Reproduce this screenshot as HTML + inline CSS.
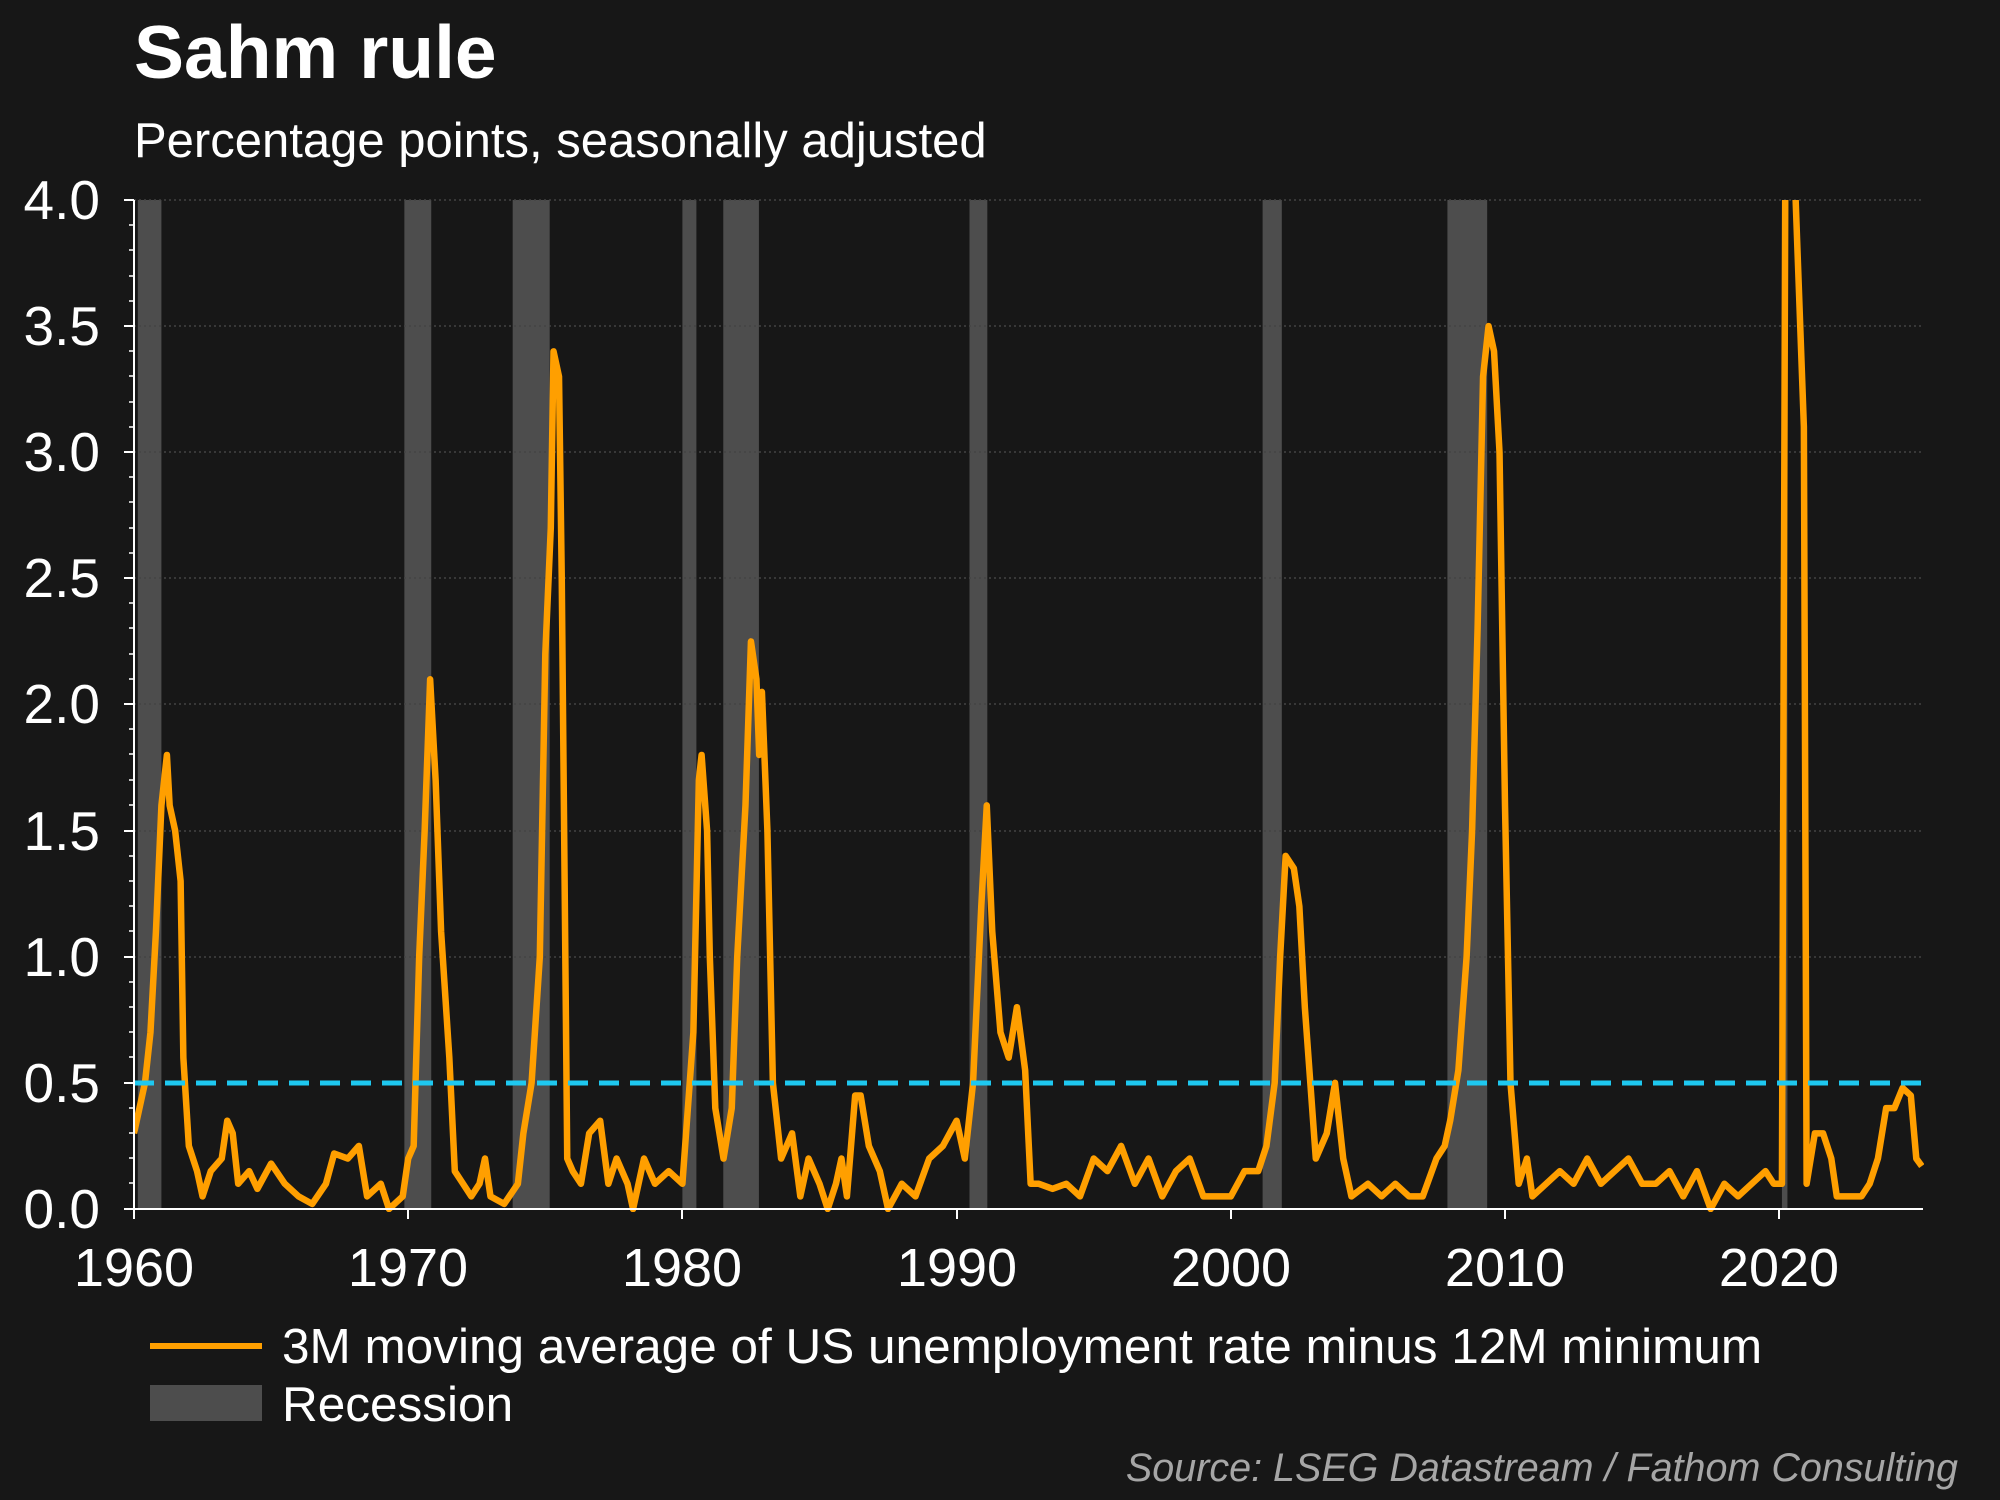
<!DOCTYPE html>
<html><head><meta charset="utf-8"><style>
html,body{margin:0;padding:0;background:#171717;}
svg{display:block;}
text{font-family:"Liberation Sans",Arial,sans-serif;fill:#fff;}
</style></head><body>
<svg width="2000" height="1500" viewBox="0 0 2000 1500">
<rect width="2000" height="1500" fill="#171717"/>
<text x="134" y="78" font-size="75" font-weight="bold">Sahm rule</text>
<text x="134" y="157" font-size="49">Percentage points, seasonally adjusted</text>
<defs><clipPath id="c"><rect x="134" y="200" width="1790" height="1012"/></clipPath></defs>
<g fill="#4d4d4d" transform="translate(134,0) scale(27.42,1)">
<rect x="0.14" y="200" width="0.86" height="1009"/>
<rect x="9.86" y="200" width="0.98" height="1009"/>
<rect x="13.81" y="200" width="1.35" height="1009"/>
<rect x="20.0" y="200" width="0.51" height="1009"/>
<rect x="21.49" y="200" width="1.3" height="1009"/>
<rect x="30.47" y="200" width="0.65" height="1009"/>
<rect x="41.16" y="200" width="0.7" height="1009"/>
<rect x="47.9" y="200" width="1.45" height="1009"/>
<rect x="60.1" y="200" width="0.2" height="1009"/>
</g>
<g stroke="#444" stroke-width="1.5" stroke-dasharray="2,3">
<line x1="134" x2="1923" y1="200" y2="200"/><line x1="134" x2="1923" y1="326" y2="326"/>
<line x1="134" x2="1923" y1="452" y2="452"/><line x1="134" x2="1923" y1="578" y2="578"/>
<line x1="134" x2="1923" y1="704" y2="704"/><line x1="134" x2="1923" y1="831" y2="831"/>
<line x1="134" x2="1923" y1="957" y2="957"/>
</g>
<g clip-path="url(#c)">
<g transform="translate(134,1209) scale(27.42,-252.25)">
<polyline fill="none" stroke="#ff9f00" stroke-width="6.5" vector-effect="non-scaling-stroke" stroke-linejoin="round" points="
0,0.3 0.2,0.4 0.4,0.5 0.6,0.7 0.8,1.1 1.0,1.6 1.2,1.8 1.3,1.6 1.5,1.5 1.7,1.3 1.8,0.6 2.0,0.25 2.3,0.15 2.5,0.05 2.8,0.15 3.2,0.2 3.4,0.35 3.6,0.3 3.8,0.1 4.2,0.15 4.5,0.08 5,0.18 5.5,0.1 6,0.05 6.5,0.02 7,0.1 7.3,0.22 7.8,0.2 8.2,0.25 8.5,0.05 9,0.1 9.3,0 9.8,0.05 10,0.2 10.2,0.25 10.4,1.0 10.6,1.5 10.8,2.1 11,1.7 11.2,1.1 11.5,0.6 11.7,0.15 12,0.1 12.3,0.05 12.6,0.1 12.8,0.2 13,0.05 13.5,0.02 14,0.1 14.2,0.3 14.5,0.5 14.8,1.0 15,2.2 15.2,2.7 15.3,3.4 15.5,3.3 15.6,2.5 15.8,0.2 16,0.15 16.3,0.1 16.6,0.3 17,0.35 17.3,0.1 17.6,0.2 18,0.1 18.2,0 18.6,0.2 19,0.1 19.5,0.15 20,0.1 20.2,0.4 20.4,0.7 20.5,1.2 20.6,1.7 20.7,1.8 20.9,1.5 21,1.0 21.2,0.4 21.5,0.2 21.8,0.4 22,1.0 22.3,1.6 22.5,2.25 22.7,2.1 22.8,1.8 22.9,2.05 23.1,1.5 23.3,0.5 23.6,0.2 24,0.3 24.3,0.05 24.6,0.2 25,0.1 25.3,0 25.6,0.1 25.8,0.2 26,0.05 26.3,0.45 26.5,0.45 26.8,0.25 27.2,0.15 27.5,0 28,0.1 28.5,0.05 29,0.2 29.5,0.25 30,0.35 30.3,0.2 30.6,0.5 30.9,1.2 31.1,1.6 31.3,1.1 31.6,0.7 31.9,0.6 32.2,0.8 32.5,0.55 32.7,0.1 33,0.1 33.5,0.08 34,0.1 34.5,0.05 35,0.2 35.5,0.15 36,0.25 36.5,0.1 37,0.2 37.5,0.05 38,0.15 38.5,0.2 39,0.05 40,0.05 40.5,0.15 41,0.15 41.3,0.25 41.6,0.5 41.8,1.0 42,1.4 42.3,1.35 42.5,1.2 42.7,0.8 42.9,0.5 43.1,0.2 43.5,0.3 43.8,0.5 44.1,0.2 44.4,0.05 45,0.1 45.5,0.05 46,0.1 46.5,0.05 47,0.05 47.5,0.2 47.8,0.25 48,0.35 48.3,0.55 48.6,1.0 48.8,1.5 49,2.3 49.2,3.3 49.4,3.5 49.6,3.4 49.8,3.0 50,1.6 50.2,0.5 50.5,0.1 50.8,0.2 51,0.05 51.5,0.1 52,0.15 52.5,0.1 53,0.2 53.5,0.1 54,0.15 54.5,0.2 55,0.1 55.5,0.1 56,0.15 56.5,0.05 57,0.15 57.5,0 58,0.1 58.5,0.05 59,0.1 59.5,0.15 59.8,0.1 60.1,0.1 60.25,5 60.5,5 60.6,4.0 60.9,3.1 61.0,0.1 61.3,0.3 61.6,0.3 61.9,0.2 62.1,0.05 62.5,0.05 63,0.05 63.3,0.1 63.6,0.2 63.9,0.4 64.2,0.4 64.5,0.48 64.8,0.45 65,0.2 65.2,0.17"/>
</g>
</g>
<line x1="134" x2="1923" y1="1083" y2="1083" stroke="#1ec8f0" stroke-width="5" stroke-dasharray="20,11"/>
<g stroke="#fff" stroke-width="2">
<line x1="134" y1="200" x2="134" y2="1209"/>
<line x1="134" y1="1209" x2="1923" y2="1209"/>
<line x1="124" x2="134" y1="200" y2="200"/><line x1="124" x2="134" y1="326" y2="326"/><line x1="124" x2="134" y1="452" y2="452"/><line x1="124" x2="134" y1="578" y2="578"/><line x1="124" x2="134" y1="704" y2="704"/><line x1="124" x2="134" y1="831" y2="831"/><line x1="124" x2="134" y1="957" y2="957"/><line x1="124" x2="134" y1="1083" y2="1083"/><line x1="124" x2="134" y1="1209" y2="1209"/>
<line x1="134" x2="134" y1="1209" y2="1219"/><line x1="408" x2="408" y1="1209" y2="1219"/><line x1="682" x2="682" y1="1209" y2="1219"/><line x1="957" x2="957" y1="1209" y2="1219"/><line x1="1231" x2="1231" y1="1209" y2="1219"/><line x1="1505" x2="1505" y1="1209" y2="1219"/><line x1="1779" x2="1779" y1="1209" y2="1219"/>
</g>
<g stroke="#fff" stroke-width="1.5">
<path d="M129 225H134M129 250H134M129 276H134M129 301H134M129 351H134M129 376H134M129 402H134M129 427H134M129 477H134M129 502H134M129 528H134M129 553H134M129 603H134M129 628H134M129 654H134M129 679H134M129 729H134M129 754H134M129 780H134M129 805H134M129 856H134M129 881H134M129 906H134M129 931H134M129 982H134M129 1007H134M129 1032H134M129 1057H134M129 1108H134M129 1133H134M129 1158H134M129 1183H134"/>
</g>
<g font-size="55" text-anchor="end">
<text x="100" y="219">4.0</text><text x="100" y="345">3.5</text><text x="100" y="471">3.0</text><text x="100" y="597">2.5</text><text x="100" y="723">2.0</text><text x="100" y="850">1.5</text><text x="100" y="976">1.0</text><text x="100" y="1102">0.5</text><text x="100" y="1228">0.0</text>
</g>
<g font-size="54" text-anchor="middle">
<text x="134" y="1286">1960</text><text x="408" y="1286">1970</text><text x="682" y="1286">1980</text><text x="957" y="1286">1990</text><text x="1231" y="1286">2000</text><text x="1505" y="1286">2010</text><text x="1779" y="1286">2020</text>
</g>
<line x1="150" x2="262" y1="1346" y2="1346" stroke="#ff9f00" stroke-width="6"/>
<rect x="150" y="1385" width="112" height="36" fill="#4d4d4d"/>
<text x="282" y="1363" font-size="49.5">3M moving average of US unemployment rate minus 12M minimum</text>
<text x="282" y="1421" font-size="49.5">Recession</text>
<text x="1958" y="1481" font-size="39.5" font-style="italic" text-anchor="end" style="fill:#a6a6a6">Source: LSEG Datastream / Fathom Consulting</text>
</svg>
</body></html>
